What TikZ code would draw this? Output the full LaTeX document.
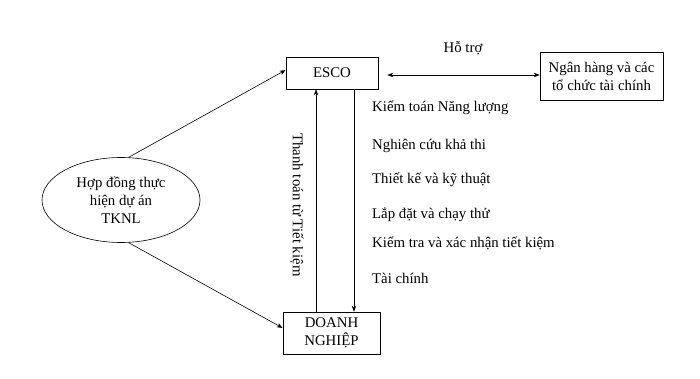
\documentclass[tikz,border=0pt]{standalone}
\usepackage{fontspec}
\setmainfont{Liberation Serif}
\usetikzlibrary{shapes.geometric,arrows.meta}
\begin{document}
\begin{tikzpicture}[x=1pt,y=-1pt,
  every node/.style={font=\fontsize{14.8}{18}\selectfont},
  boxnode/.style={draw, line width=0.6pt, inner sep=0pt, align=center},
  txt/.style={anchor=west, inner sep=0pt},
  arr/.style={line width=0.6pt, -{Stealth[length=6pt,width=4.5pt]}},
  dbl/.style={line width=0.6pt, {Stealth[length=6pt,width=4.5pt]}-{Stealth[length=6pt,width=4.5pt]}}]
\useasboundingbox (0,0) rectangle (700,379);
\fill[white] (0,0) rectangle (700,379);
\node[boxnode, minimum width=92pt, minimum height=32pt] (esco) at (332,73) {ESCO};
\node[boxnode, minimum width=123pt, minimum height=48pt] (bank) at (601.5,76) {Ngân hàng và các\\tổ chức tài chính};
\node[boxnode, minimum width=97pt, minimum height=42pt] (dn) at (331.5,333) {DOANH\\NGHIỆP};
\node[draw, line width=0.6pt, ellipse, minimum width=158pt, minimum height=85pt, inner sep=0pt, align=center] (el) at (121,200) {Hợp đồng thực\\hiện dự án\\TKNL};
\node (ht) at (463,48) {Hỗ trợ};
\coordinate (hy) at (0,75);
\coordinate (upx) at (316,0);
\coordinate (dnx) at (354,0);
\draw[dbl, shorten <=9pt] (esco.east |- hy) -- (bank.west |- hy);
\draw[arr] (el.80) -- ([yshift=3pt]esco.west);
\draw[arr] (el.-80) -- ([yshift=5pt]dn.west);
\draw[arr] (dn.north -| upx) -- (esco.south -| upx);
\draw[arr] (esco.south -| dnx) -- (dn.north -| dnx);
\node[rotate=-90, inner sep=0pt] (pay) at (297,205) {Thanh toán từ Tiết kiệm};
\node[txt] (t1) at (372,108) {Kiểm toán Năng lượng};
\node[txt] (t2) at (372,146) {Nghiên cứu khả thi};
\node[txt] (t3) at (372,180) {Thiết kế và kỹ thuật};
\node[txt] (t4) at (372,215) {Lắp đặt và chạy thử};
\node[txt] (t5) at (372,243) {Kiểm tra và xác nhận tiết kiệm};
\node[txt] (t6) at (372,278) {Tài chính};
\end{tikzpicture}
\end{document}
